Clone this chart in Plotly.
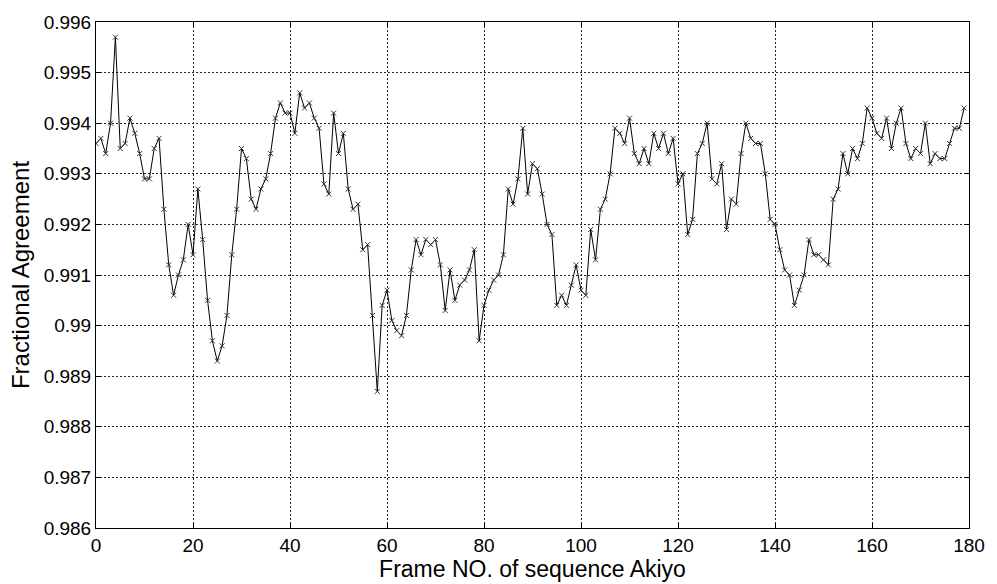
import plotly.graph_objects as go

frames = list(range(180))
agreement = [
    0.9936, 0.9937, 0.9934, 0.9940, 0.9957, 0.9935, 0.9936, 0.9941, 0.9938, 0.9934,
    0.9929, 0.9929, 0.9935, 0.9937, 0.9923, 0.9912, 0.9906, 0.9910, 0.9913, 0.9920,
    0.9914, 0.9927, 0.9917, 0.9905, 0.9897, 0.9893, 0.9896, 0.9902, 0.9914, 0.9923,
    0.9935, 0.9933, 0.9925, 0.9923, 0.9927, 0.9929, 0.9934, 0.9941, 0.9944, 0.9942,
    0.9942, 0.9938, 0.9946, 0.9943, 0.9944, 0.9941, 0.9939, 0.9928, 0.9926, 0.9942,
    0.9934, 0.9938, 0.9927, 0.9923, 0.9924, 0.9915, 0.9916, 0.9902, 0.9887, 0.9904,
    0.9907, 0.9901, 0.9899, 0.9898, 0.9902, 0.9911, 0.9917, 0.9914, 0.9917, 0.9916,
    0.9917, 0.9912, 0.9903, 0.9911, 0.9905, 0.9908, 0.9909, 0.9911, 0.9915, 0.9897,
    0.9904, 0.9907, 0.9909, 0.9910, 0.9914, 0.9927, 0.9924, 0.9929, 0.9939, 0.9926,
    0.9932, 0.9931, 0.9926, 0.9920, 0.9918, 0.9904, 0.9906, 0.9904, 0.9908, 0.9912,
    0.9907, 0.9906, 0.9919, 0.9913, 0.9923, 0.9925, 0.9930, 0.9939, 0.9938, 0.9936,
    0.9941, 0.9934, 0.9932, 0.9935, 0.9932, 0.9938, 0.9935, 0.9938, 0.9934, 0.9937,
    0.9928, 0.9930, 0.9918, 0.9921, 0.9934, 0.9936, 0.9940, 0.9929, 0.9928, 0.9932,
    0.9919, 0.9925, 0.9924, 0.9934, 0.9940, 0.9937, 0.9936, 0.9936, 0.9930, 0.9921,
    0.9920, 0.9915, 0.9911, 0.9910, 0.9904, 0.9907, 0.9910, 0.9917, 0.9914, 0.9914,
    0.9913, 0.9912, 0.9925, 0.9927, 0.9934, 0.9930, 0.9935, 0.9933, 0.9936, 0.9943,
    0.9941, 0.9938, 0.9937, 0.9941, 0.9935, 0.9940, 0.9943, 0.9936, 0.9933, 0.9935,
    0.9934, 0.9940, 0.9932, 0.9934, 0.9933, 0.9933, 0.9936, 0.9939, 0.9939, 0.9943,
]

x_ticks = list(range(0, 181, 20))
y_tickvals = [0.986, 0.987, 0.988, 0.989, 0.990, 0.991, 0.992, 0.993, 0.994, 0.995, 0.996]
y_ticktext = ["0.986", "0.987", "0.988", "0.989", "0.99", "0.991", "0.992", "0.993", "0.994", "0.995", "0.996"]

FONT = "Liberation Sans, Arial, sans-serif"

fig = go.Figure()
fig.add_trace(go.Scatter(
    x=frames, y=agreement, mode="lines+markers",
    line=dict(color="black", width=1),
    marker=dict(symbol="x-thin-open", size=5, color="#333333",
                line=dict(color="#333333", width=1)),
    showlegend=False,
))

axis_common = dict(
    showline=True, mirror="ticks", linecolor="black", linewidth=1,
    ticks="inside", ticklen=5, tickcolor="black",
    showgrid=True, gridcolor="#222222", gridwidth=1, griddash="2px,2px",
    zeroline=False,
    tickfont=dict(family=FONT, size=19, color="black"),
)

fig.update_xaxes(range=[0, 180], tickvals=x_ticks,
                 title=dict(text="Frame NO. of sequence Akiyo",
                            font=dict(family=FONT, size=23, color="black"),
                            standoff=0),
                 **axis_common)
fig.update_yaxes(range=[0.986, 0.996], tickvals=y_tickvals, ticktext=y_ticktext,
                 title=dict(text="Fractional Agreement",
                            font=dict(family=FONT, size=24, color="black"),
                            standoff=7),
                 **axis_common)

fig.update_layout(
    width=997, height=584,
    margin=dict(l=96, r=21, t=20, b=51),
    paper_bgcolor="white", plot_bgcolor="white",
    font=dict(family=FONT, color="black"),
)

fig.write_html("out.html")
